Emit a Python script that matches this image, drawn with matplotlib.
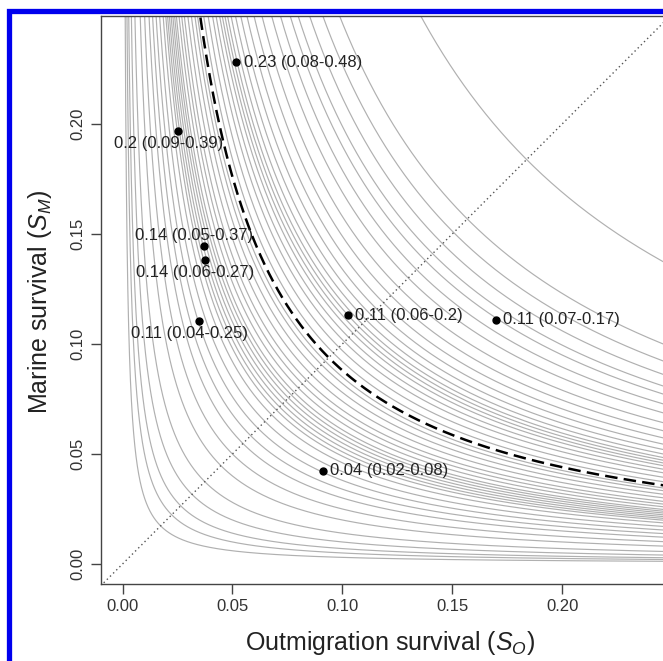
import numpy as np
import matplotlib
matplotlib.use("Agg")
import matplotlib.pyplot as plt
from matplotlib.patches import Rectangle

plt.rcParams['font.family'] = ['Liberation Sans', 'DejaVu Sans']
plt.rcParams['mathtext.fontset'] = 'custom'
plt.rcParams['mathtext.rm'] = 'Liberation Sans'
plt.rcParams['mathtext.it'] = 'Liberation Sans:italic'

# Products S_O * S_M for each gray iso-curve
curve_products = [
    0.0003, 0.0005, 0.0007, 0.0010, 0.0014, 0.0020, 0.0025, 0.0030,
    0.0034, 0.0038, 0.0042,
    0.0046, 0.0049, 0.0051, 0.0053, 0.0055, 0.0057, 0.0059, 0.0061,
    0.0064, 0.0067,
    0.0070, 0.0074, 0.0078, 0.0082, 0.0085,
    0.0092, 0.0097, 0.0102, 0.0106, 0.0110, 0.0113, 0.0116, 0.0119,
    0.0123, 0.0128,
    0.0134, 0.0141, 0.0149, 0.0158, 0.0169, 0.0179, 0.0190, 0.0199,
    0.0212, 0.0227, 0.0246, 0.0338,
]
# dashed reference curve product
dashed_product = 0.0088

# points
pt_so = [0.0516, 0.0252, 0.0370, 0.0375, 0.0348, 0.1025, 0.1698, 0.0911]
pt_sm = [0.2280, 0.1970, 0.1445, 0.1380, 0.1105, 0.1130, 0.1110, 0.0423]
pt_labels = ["0.23 (0.08-0.48)", "0.2 (0.09-0.39)", "0.14 (0.05-0.37)",
             "0.14 (0.06-0.27)", "0.11 (0.04-0.25)", "0.11 (0.06-0.2)",
             "0.11 (0.07-0.17)", "0.04 (0.02-0.08)"]
# label placement: 'r' right, 'b' below, 'a' above
pt_pos = ['r', 'b', 'a', 'b', 'b', 'r', 'r', 'r']

xticks = [0.00, 0.05, 0.10, 0.15, 0.20]
yticks = [0.00, 0.05, 0.10, 0.15, 0.20]

W, H = 663, 661
fig = plt.figure(figsize=(W / 100, H / 100), dpi=100)
ax = fig.add_axes([101 / W, (H - 584) / H, (694 - 101) / W, (584 - 16) / H])
ax.set_xlim(-0.0098, 0.26)
ax.set_ylim(-0.0091, 0.2491)

xs = np.geomspace(0.0003, 0.3, 3000)
for c in curve_products:
    ax.plot(xs, c / xs, color='#b0b0b0', lw=0.85, zorder=1)
ax.plot(xs, dashed_product / xs, color='black', lw=1.8, ls=(0, (5, 2.5)), zorder=3)
ax.plot([-0.02, 0.3], [-0.02, 0.3], color='#555555', lw=1.0, ls=(0, (1, 2.2)), zorder=2)

ax.plot(pt_so, pt_sm, 'o', color='black', ms=5, zorder=5)
for x, y, lab, p in zip(pt_so, pt_sm, pt_labels, pt_pos):
    if p == 'r':
        ax.annotate(lab, (x, y), xytext=(5.5, 0), textcoords='offset points',
                    ha='left', va='center', fontsize=12, color='#222222', zorder=6)
    elif p == 'b':
        ax.annotate(lab, (x, y), xytext=(-7, -9), textcoords='offset points',
                    ha='center', va='center', fontsize=12, color='#222222', zorder=6)
    else:
        ax.annotate(lab, (x, y), xytext=(-7, 7.5), textcoords='offset points',
                    ha='center', va='center', fontsize=12, color='#222222', zorder=6)

ax.set_xticks(xticks)
ax.set_xticklabels([f"{t:.2f}" for t in xticks])
ax.set_yticks(yticks)
ax.set_yticklabels([f"{t:.2f}" for t in yticks], rotation=90, va='center')
ax.tick_params(axis='both', direction='out', length=7, width=1, color='#444444',
               labelsize=12, labelcolor='#333333', pad=4)
for s in ['left', 'bottom', 'top']:
    ax.spines[s].set_color('#444444')
    ax.spines[s].set_linewidth(1.0)
ax.spines['right'].set_visible(False)

fig.text(390 / W, 1 - 643 / H, 'Outmigration survival ($S_O$)', ha='center', va='center',
         fontsize=18, color='#222222')
fig.text(40 / W, 1 - 302 / H, 'Marine survival ($S_M$)', ha='center', va='center',
         rotation=90, fontsize=18, color='#222222')

# blue frame
fig.add_artist(Rectangle((8.5 / W, -0.1), 1.2, 1 - 10.5 / H + 0.1, transform=fig.transFigure,
                         fill=False, edgecolor='#0000ee', lw=3.8, zorder=10))

fig.savefig('out.png', dpi=100)
